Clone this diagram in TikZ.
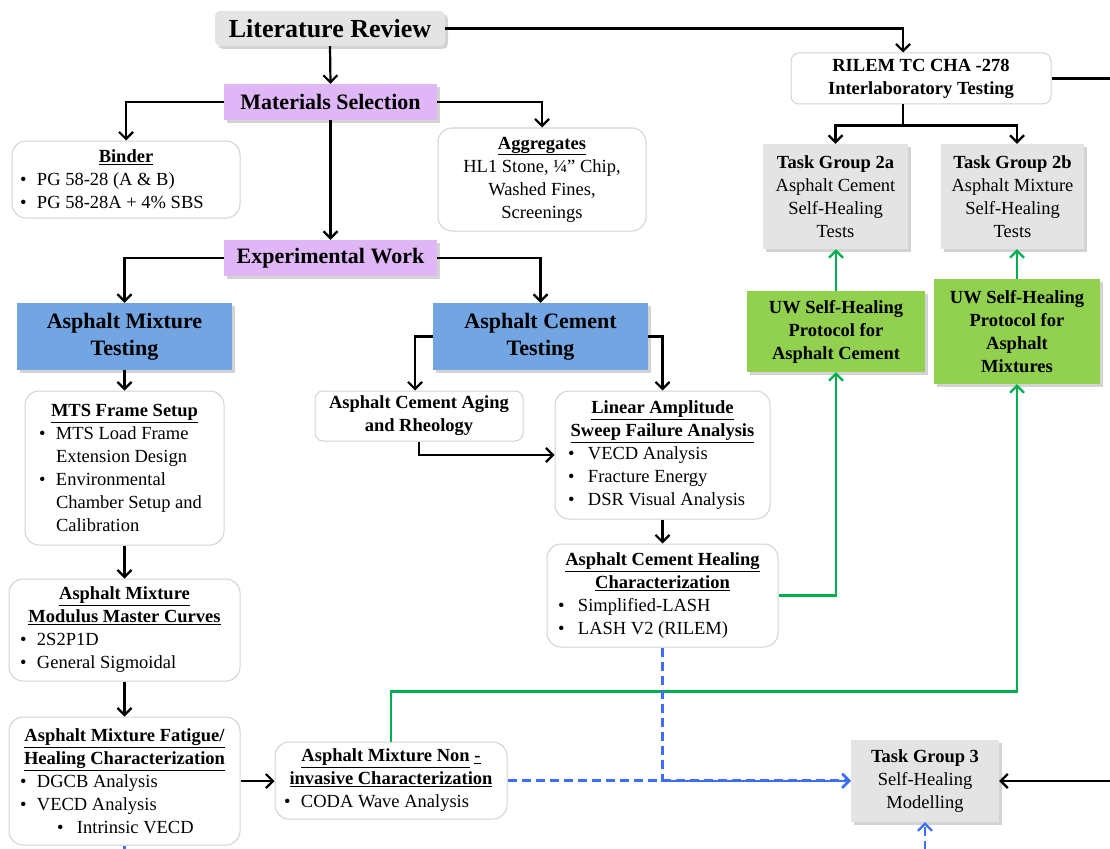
\documentclass[tikz,border=0pt]{standalone}
\usepackage{fontspec}
\setmainfont{Liberation Serif}
\usetikzlibrary{arrows.meta,shadows,calc}
\definecolor{purp}{HTML}{DFB7F7}
\definecolor{blu}{HTML}{72A5E2}
\definecolor{grn}{HTML}{92D050}
\definecolor{gry}{HTML}{E4E4E4}
\definecolor{lgreen}{HTML}{00B050}
\definecolor{dblue}{HTML}{3C6EFA}
\definecolor{bord}{HTML}{D2D2D2}
\newlength\bulw
\setlength\bulw{17pt}
\newcommand\mytitle[1]{\par\centerline{\textbf{\underline{#1}}}}
\newcommand\mybul[1]{\par\noindent\makebox[\bulw][l]{\textbullet}#1}
\newcommand\mycont[1]{\par\noindent\hspace*{\bulw}#1}
\tikzset{
  body/.style={font=\fontsize{18.5}{23}\selectfont},
  rbox/.style={body, draw=bord, line width=1pt, rounded corners=14pt, fill=white, inner sep=0pt},
  sbox/.style={body, draw=bord, line width=1pt, rounded corners=8pt, fill=white, inner sep=0pt, align=center},
  shad/.style={drop shadow={opacity=0.35, shadow xshift=3pt, shadow yshift=-3pt}},
  gbox/.style={body, fill=gry, shad, inner sep=0pt, align=center},
  uwbox/.style={body, fill=grn, shad, inner sep=0pt, align=center, font=\fontsize{18.5}{23}\selectfont\bfseries},
  pbox/.style={fill=purp, shad, inner sep=0pt, align=center, font=\fontsize{22}{27}\selectfont\bfseries},
  bbox/.style={fill=blu, shad, inner sep=0pt, align=center, font=\fontsize{22}{27}\selectfont\bfseries},
  arr/.style={-{Straight Barb[length=7pt,width=14pt]}, line width=2.2pt, draw=black},
  plain/.style={line width=2.2pt, draw=black},
  garr/.style={arr, draw=lgreen},
  barr/.style={arr, draw=dblue, dash pattern=on 9pt off 5pt},
  bline/.style={line width=2.2pt, draw=dblue, dash pattern=on 9pt off 5pt},
}
\begin{document}
\begin{tikzpicture}[x=1pt,y=-1pt]
\useasboundingbox (0,0) rectangle (1110,848);

% top
\node[fill=gry, shad, rounded corners=5pt, minimum width=230pt, minimum height=35pt, inner sep=0pt, font=\fontsize{26}{30}\selectfont\bfseries] (lr) at (330,28.5) {Literature Review};
\node[pbox, minimum width=213pt, minimum height=36pt] (ms) at (330.5,102) {Materials Selection};
\node[pbox, minimum width=213pt, minimum height=36pt] (ew) at (330.5,258) {Experimental Work};

\node[rbox, minimum width=228pt, minimum height=77pt] (binder) at (126,179.5)
  {\parbox{212pt}{\mytitle{Binder}\mybul{PG 58-28 (A \& B)}\mybul{PG 58-28A + 4\% SBS}}};
\node[rbox, minimum width=208pt, minimum height=103pt, align=center] (aggr) at (542,179.5)
  {\textbf{\underline{Aggregates}}\\ HL1 Stone, ¼” Chip,\\ Washed Fines,\\ Screenings};

% testing
\node[bbox, minimum width=215pt, minimum height=67pt] (amt) at (124.5,336.5) {Asphalt Mixture\\Testing};
\node[bbox, minimum width=215pt, minimum height=67pt] (act) at (540.5,336.5) {Asphalt Cement\\Testing};

\node[rbox, minimum width=199pt, minimum height=154pt] (mts) at (124.5,468)
  {\parbox{171pt}{\mytitle{MTS Frame Setup}\mybul{MTS Load Frame}\mycont{Extension Design}\mybul{Environmental}\mycont{Chamber Setup and}\mycont{Calibration}}};
\node[rbox, minimum width=231pt, minimum height=102pt] (modulus) at (124.5,630)
  {\parbox{209pt}{\mytitle{Asphalt Mixture}\mytitle{Modulus Master Curves}\mybul{2S2P1D}\mybul{General Sigmoidal}}};
\node[rbox, minimum width=231pt, minimum height=128pt] (fatigue) at (124.5,781)
  {\parbox{209pt}{\mytitle{Asphalt Mixture Fatigue/}\mytitle{Healing Characterization}\mybul{DGCB Analysis}\mybul{VECD Analysis}\par\noindent\hspace*{37pt}\makebox[20pt][l]{\textbullet}Intrinsic VECD}};
\node[rbox, minimum width=232pt, minimum height=77pt] (noninv) at (391,780.5)
  {\parbox{214pt}{\par\centerline{\textbf{\underline{Asphalt Mixture Non} \underline{-}}}\mytitle{invasive Characterization}\mybul{CODA Wave Analysis}}};

\node[sbox, minimum width=208pt, minimum height=50pt, font=\fontsize{18.5}{23}\selectfont\bfseries] (aging) at (419,416) {Asphalt Cement Aging\\and Rheology};
\node[rbox, minimum width=215pt, minimum height=128pt] (las) at (662.5,455)
  {\parbox{189pt}{\setlength\bulw{20pt}\mytitle{Linear Amplitude}\mytitle{Sweep Failure Analysis}\mybul{VECD Analysis}\mybul{Fracture Energy}\mybul{DSR Visual Analysis}}};
\node[rbox, minimum width=231pt, minimum height=103pt] (healing) at (662.5,595.5)
  {\parbox{209pt}{\setlength\bulw{20pt}\mytitle{Asphalt Cement Healing}\mytitle{Characterization}\mybul{Simplified-LASH}\mybul{LASH V2 (RILEM)}}};

% right side
\node[sbox, minimum width=260pt, minimum height=51pt, font=\fontsize{18.5}{23}\selectfont\bfseries] (rilem) at (921,78.5) {RILEM TC CHA -278\\Interlaboratory Testing};
\node[gbox, minimum width=145pt, minimum height=105pt] (tg2a) at (835.5,196.5) {\textbf{Task Group 2a}\\Asphalt Cement\\Self-Healing\\Tests};
\node[gbox, minimum width=143pt, minimum height=105pt] (tg2b) at (1012.5,196.5) {\textbf{Task Group 2b}\\Asphalt Mixture\\Self-Healing\\Tests};
\node[uwbox, minimum width=178pt, minimum height=81pt] (uwc) at (836,331.5) {UW Self-Healing\\Protocol for\\Asphalt Cement};
\node[uwbox, minimum width=166pt, minimum height=105pt] (uwm) at (1017,331.5) {UW Self-Healing\\Protocol for\\Asphalt\\Mixtures};
\node[gbox, minimum width=148pt, minimum height=82pt] (tg3) at (925,781) {\textbf{Task Group 3}\\Self-Healing\\Modelling};

\coordinate (rEdge) at (1112,78.5);
\coordinate (tEdge) at (1112,781);
\coordinate (bEdge) at (925,850);
\coordinate (fEdge) at (124.5,852);

% connectors
\draw[arr] (lr.east) -| ([xshift=-18pt]rilem.north);
\draw[arr] (lr.south) -- (ms.north);
\draw[arr] (ms.west) -| (binder.north);
\draw[arr] (ms.east) -| (aggr.north);
\draw[arr] (ms.south) -- (ew.north);
\draw[arr] (ew.west) -| (amt.north);
\draw[arr] (ew.east) -| (act.north);
\draw[arr] (amt.south) -- (mts.north);
\draw[arr] (mts.south) -- (modulus.north);
\draw[arr] (modulus.south) -- (fatigue.north);
\draw[arr] (fatigue.east) -- (fatigue.east -| noninv.west);
\draw[arr] (act.west) -| ([xshift=-4pt]aging.north);
\draw[arr] (act.east) -| (las.north);
\draw[arr] (aging.south) |- (las.west);
\draw[arr] (las.south) -- (healing.north);

\draw[plain] ([xshift=-18pt]rilem.south) -- ++(0,21) coordinate (split);
\draw[arr] (split) -| (tg2a.north);
\draw[arr] (split) -| ([xshift=4.5pt]tg2b.north);
\draw[plain] (rilem.east) -- (rEdge);
\draw[arr] (tEdge) -- (tg3.east);

\draw[garr] (healing.east) -| (uwc.south);
\draw[garr] (uwc.north) -- (uwc.north |- tg2a.south);
\draw[garr] (uwm.north) -- (uwm.north |- tg2b.south);
\draw[garr] (noninv.north) -- ++(0,-50) -| (uwm.south);

\draw[barr] (healing.south) |- (tg3.west);
\draw[barr] (noninv.east) -- (noninv.east -| tg3.west);
\draw[barr] (bEdge) -- (tg3.south);
\draw[bline] (fatigue.south) -- (fEdge);
\end{tikzpicture}
\end{document}
